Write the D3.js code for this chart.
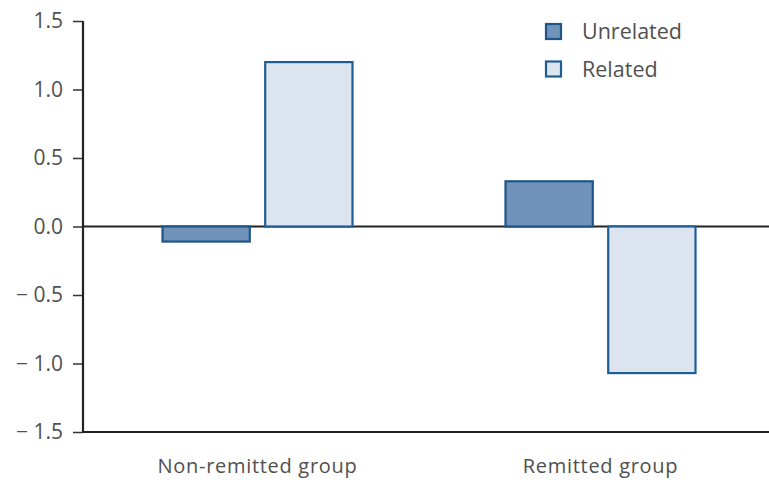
<!DOCTYPE html>
<html>
<head>
<meta charset="utf-8">
<script src="https://cdn.jsdelivr.net/npm/d3@7"></script>
<style>
  html, body { margin: 0; padding: 0; background: #fff; }
  svg { display: block; }
  text { font-family: "Open Sans", "DejaVu Sans", sans-serif; fill: #505050; }
</style>
</head>
<body>
<svg id="chart" width="769" height="485"></svg>
<script>
const groups = ["Non-remitted group", "Remitted group"];
const seriesNames = ["Unrelated", "Related"];
const unrelatedValues = [-0.11, 0.33];
const relatedValues = [1.20, -1.07];
const yTicks = [-1.5, -1.0, -0.5, 0.0, 0.5, 1.0, 1.5];
const yTickLabels = ["\u2212 1.5", "\u2212 1.0", "\u2212 0.5", "0.0", "0.5", "1.0", "1.5"];

const fills = { "Unrelated": "#7192bb", "Related": "#dce4ef" };
const strokes = { "Unrelated": "#1d5687", "Related": "#1f5e94" };

(function () {
const svg = d3.select("#chart");
const W = 769;
const mLeft = 83, mTop = 21, mBottom = 432;

const y = d3.scaleLinear().domain([-1.5, 1.5]).range([mBottom, mTop]);
const x0 = d3.scaleBand().domain(groups).range([86, 772]).padding(0);
const x1 = d3.scaleBand().domain(seriesNames).range([-95, 95]).paddingInner(0.15).paddingOuter(0);

const data = groups.map((g, i) => ({
  group: g,
  values: [
    { key: "Unrelated", value: unrelatedValues[i] },
    { key: "Related", value: relatedValues[i] }
  ]
}));

// zero line
svg.append("line")
  .attr("x1", mLeft).attr("x2", W)
  .attr("y1", y(0)).attr("y2", y(0))
  .attr("stroke", "#222").attr("stroke-width", 2.2);

// bars
const g = svg.append("g");
data.forEach(d => {
  const cx = x0(d.group) + x0.bandwidth() / 2;
  g.selectAll(null).data(d.values).enter().append("rect")
    .attr("x", v => cx + x1(v.key))
    .attr("width", x1.bandwidth())
    .attr("y", v => y(Math.max(0, v.value)))
    .attr("height", v => Math.abs(y(v.value) - y(0)))
    .attr("fill", v => fills[v.key])
    .attr("stroke", v => strokes[v.key])
    .attr("stroke-width", 2.2);
});

// y axis
const yAxis = d3.axisLeft(y).tickValues(yTicks)
  .tickFormat((d, i) => yTickLabels[i])
  .tickSize(10).tickPadding(10);
const ya = svg.append("g").attr("transform", `translate(${mLeft},0)`).call(yAxis);
ya.select(".domain").remove();
ya.selectAll(".tick line").attr("stroke", "#333").attr("stroke-width", 1.5);
ya.selectAll(".tick text").attr("font-size", 21).attr("fill", "#505050")
  .attr("font-family", "'Open Sans', sans-serif");

svg.append("line")
  .attr("x1", mLeft).attr("x2", mLeft)
  .attr("y1", mTop).attr("y2", mBottom + 1)
  .attr("stroke", "#222").attr("stroke-width", 2.2);

// x axis (bottom line)
svg.append("line")
  .attr("x1", mLeft - 1).attr("x2", W)
  .attr("y1", mBottom).attr("y2", mBottom)
  .attr("stroke", "#222").attr("stroke-width", 2.2);

const xAxis = d3.axisBottom(x0).tickSize(0).tickPadding(0);
const xa = svg.append("g").attr("transform", `translate(0,${mBottom})`).call(xAxis);
xa.select(".domain").remove();
xa.selectAll(".tick text")
  .attr("y", 27).attr("dy", "0.71em")
  .attr("font-size", 20).attr("letter-spacing", 0.7)
  .attr("fill", "#505050").attr("font-family", "'Open Sans', sans-serif");

// legend
const legend = svg.append("g");
seriesNames.forEach((s, i) => {
  const ly = 24 + i * 37.5;
  legend.append("rect")
    .attr("x", 546).attr("y", ly)
    .attr("width", 15).attr("height", 15)
    .attr("fill", fills[s]).attr("stroke", strokes[s]).attr("stroke-width", 2.2);
  legend.append("text")
    .attr("x", 582).attr("y", ly + 15)
    .attr("font-size", 21.5).attr("fill", "#505050")
    .text(s);
});
})();
</script>
</body>
</html>
